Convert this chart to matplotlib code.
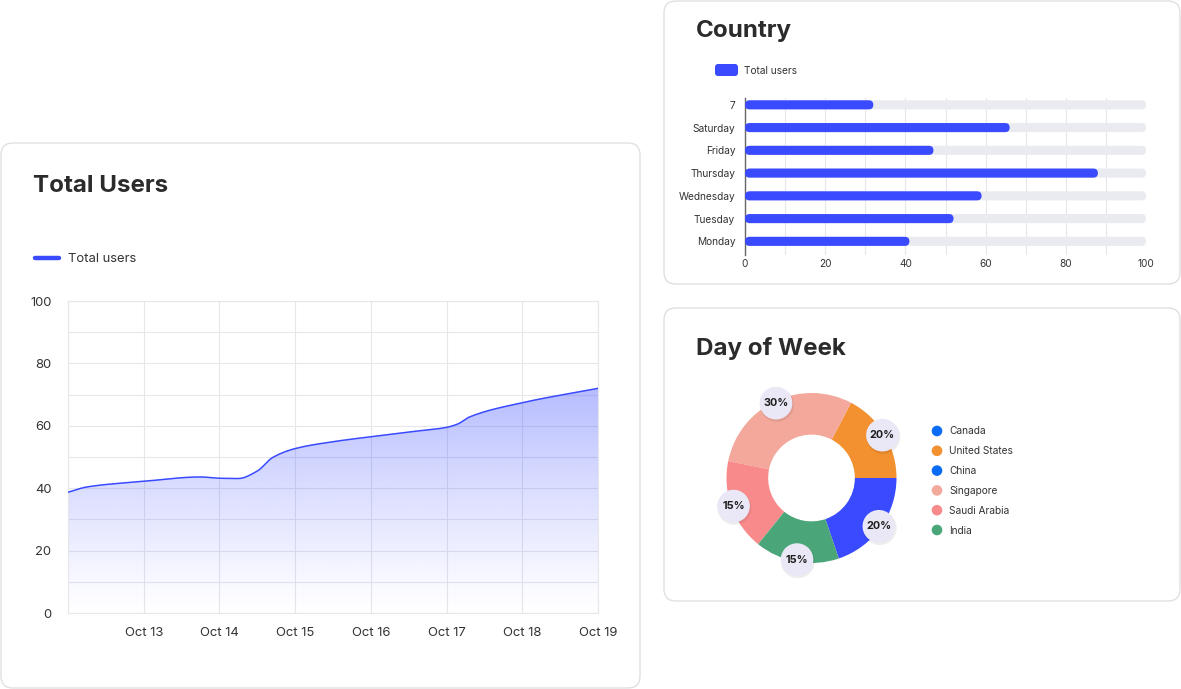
import numpy as np
import matplotlib
matplotlib.use("Agg")
import matplotlib.pyplot as plt
from matplotlib.patches import FancyBboxPatch, Polygon, Circle

plt.rcParams['font.family'] = ['Inter', 'DejaVu Sans']

# ---- data ----
# line chart: day offset from Oct 12 and total users
line_days = [0, 0.25, 1.0, 1.75, 2.0, 2.25, 2.5, 2.7, 3.0, 3.5, 4.0, 4.5, 5.0, 5.15, 5.3, 6.0, 7.0]
line_users = [38.7, 40.4, 42.2, 43.6, 43.2, 43.1, 45.5, 49.8, 52.7, 54.9, 56.5, 58.0, 59.5, 60.6, 62.8, 67.4, 72.0]
date_labels = ['Oct 13', 'Oct 14', 'Oct 15', 'Oct 16', 'Oct 17', 'Oct 18', 'Oct 19']

# bar chart
bar_days = ['Monday', 'Tuesday', 'Wednesday', 'Thursday', 'Friday', 'Saturday', '7']
bar_users = [41, 52, 59, 88, 47, 66, 32]

# donut chart
countries = ['Canada', 'United States', 'China', 'Singapore', 'Saudi Arabia', 'India']
shares = [19.8, 17.3, 0, 29.5, 17.4, 16.0]
share_labels = ['20%', '20%', '', '30%', '15%', '15%']
slice_colors = ['#3A4BFF', '#F3902F', '#0A6CF5', '#F3A89B', '#F88A8C', '#4AA679']
legend_colors = ['#0A6CF5', '#F3902F', '#0A6CF5', '#F3A99C', '#F88A8C', '#4AA679']

W, H = 1181, 689
BLUE = '#3A4BFF'
GRID = '#E6E6EB'
TXT = '#333333'

fig = plt.figure(figsize=(W / 100, H / 100), dpi=100)
fig.patch.set_facecolor('white')


def px_axes(left, top, right, bottom):
    return fig.add_axes([left / W, 1 - bottom / H, (right - left) / W, (bottom - top) / H])


# background layer in pixel units (cards, titles, legends)
bg = fig.add_axes([0, 0, 1, 1], zorder=-5)
bg.set_xlim(0, W)
bg.set_ylim(H, 0)
bg.axis('off')

cards = [(1, 143, 640, 688), (664, 1, 1180, 284), (664, 308, 1180, 601)]
for l, t, r, b in cards:
    bg.add_patch(FancyBboxPatch((l, t), r - l, b - t, boxstyle="round,pad=0,rounding_size=12",
                                facecolor='white', edgecolor='#E0E0E0', linewidth=1))

title_kw = dict(fontsize=17.4, fontweight='bold', color='#2B2B2B', va='baseline', ha='left')
bg.text(33, 192, 'Total Users', **title_kw)
bg.text(696, 37.5, 'Country', **title_kw)
bg.text(696, 355, 'Day of Week', **title_kw)

# legend of line chart
bg.plot([35, 59], [258, 258], color=BLUE, lw=3.2, solid_capstyle='round')
bg.text(68, 259, 'Total users', fontsize=9.4, color=TXT, va='center', ha='left')

# legend of bar chart
bg.add_patch(FancyBboxPatch((715, 64), 23, 12, boxstyle="round,pad=0,rounding_size=3",
                            facecolor=BLUE, edgecolor='none'))
bg.text(744, 70.5, 'Total users', fontsize=7.3, color=TXT, va='center', ha='left')

# legend of donut chart
for i, (name, col) in enumerate(zip(countries, legend_colors)):
    y = 431 + i * 19.8
    bg.add_patch(Circle((937, y), 5.3, facecolor=col, edgecolor='none'))
    bg.text(949, y + 0.5, name, fontsize=7.3, color=TXT, va='center', ha='left')


# ---- monotone cubic curve for smooth line ----
def monotone_curve(x, y, n=500):
    x = np.asarray(x, float)
    y = np.asarray(y, float)
    h = np.diff(x)
    d = np.diff(y) / h
    m = np.zeros_like(y)
    m[0], m[-1] = d[0], d[-1]
    for k in range(1, len(x) - 1):
        if d[k - 1] * d[k] <= 0:
            m[k] = 0
        else:
            w1 = 2 * h[k] + h[k - 1]
            w2 = h[k] + 2 * h[k - 1]
            m[k] = (w1 + w2) / (w1 / d[k - 1] + w2 / d[k])
    xs = np.linspace(x[0], x[-1], n)
    idx = np.clip(np.searchsorted(x, xs) - 1, 0, len(h) - 1)
    t = (xs - x[idx]) / h[idx]
    h00 = 2 * t**3 - 3 * t**2 + 1
    h10 = t**3 - 2 * t**2 + t
    h01 = -2 * t**3 + 3 * t**2
    h11 = t**3 - t**2
    ys = h00 * y[idx] + h10 * h[idx] * m[idx] + h01 * y[idx + 1] + h11 * h[idx] * m[idx + 1]
    return xs, ys


# ---- line / area chart ----
ax = px_axes(68, 301, 598, 613)
xs, ys = monotone_curve(line_days, line_users)

# gradient fill clipped to the area under the curve
grad = np.zeros((256, 1, 4))
grad[:, 0, :3] = matplotlib.colors.to_rgb(BLUE)
grad[:, 0, 3] = np.linspace(0.0, 0.42, 256) ** 1.15
im = ax.imshow(grad, extent=(xs[0], xs[-1], 0, max(line_users)), origin='lower',
               aspect='auto', zorder=1)
verts = np.column_stack([np.r_[xs, xs[-1], xs[0]], np.r_[ys, 0, 0]])
clip = Polygon(verts, closed=True, facecolor='none', edgecolor='none', transform=ax.transData)
ax.add_patch(clip)
im.set_clip_path(clip)
ax.plot(xs, ys, color=BLUE, lw=1.1, zorder=3)

ax.set_xlim(0, 7)
ax.set_ylim(0, 100)
ax.set_xticks(range(1, 8))
ax.set_xticklabels(date_labels)
ax.set_xticks([0], minor=True)
ax.set_yticks(range(0, 101, 20))
ax.set_yticks(range(10, 100, 20), minor=True)
ax.grid(True, which='both', color=GRID, lw=0.8, zorder=0)
ax.set_axisbelow(True)
for s in ax.spines.values():
    s.set_color(GRID)
    s.set_linewidth(0.8)
ax.tick_params(which='both', length=0, labelsize=9.4, labelcolor=TXT)
ax.tick_params(axis='x', pad=10)
ax.tick_params(axis='y', pad=12)

# ---- horizontal bar chart ----
ax2 = px_axes(745, 98, 1146, 255)
ax2.set_facecolor('none')
ax2.set_xlim(0, 100)
ax2.set_ylim(-0.6, 6.3)
ypos = np.arange(len(bar_days))
bar_h = 0.4
bg_bars = ax2.barh(ypos, [100] * len(bar_days), height=bar_h, color='#E9EBF0', zorder=2)
fg_bars = ax2.barh(ypos, bar_users, height=bar_h, color=BLUE, zorder=3)

# round the bar ends
px_x = (1146 - 745) / 100
px_y = (255 - 98) / 6.9
r_x = (bar_h / 2) * px_y / px_x
aspect = (bar_h / 2) / r_x
for bars in (bg_bars, fg_bars):
    for b in bars:
        x0, y0, w, hh = b.get_x(), b.get_y(), b.get_width(), b.get_height()
        b.set_visible(False)
        ax2.add_patch(FancyBboxPatch((x0, y0), w, hh,
                                     boxstyle=f"round,pad=0,rounding_size={r_x}",
                                     mutation_aspect=aspect, facecolor=b.get_facecolor(),
                                     edgecolor='none', zorder=b.get_zorder()))

ax2.set_yticks(ypos)
ax2.set_yticklabels(bar_days)
ax2.set_xticks(range(0, 101, 20))
ax2.set_xticks(range(10, 100, 20), minor=True)
ax2.grid(True, axis='x', which='both', color=GRID, lw=0.8, zorder=0)
ax2.set_axisbelow(True)
for side in ('top', 'right', 'bottom'):
    ax2.spines[side].set_visible(False)
ax2.spines['left'].set_color('#666666')
ax2.spines['left'].set_linewidth(1)
ax2.tick_params(which='both', length=0, labelsize=7.3, labelcolor=TXT)
ax2.tick_params(axis='y', pad=7)
ax2.tick_params(axis='x', pad=3)

# ---- donut chart ----
R_PX = 85
ax3 = px_axes(811.5 - 100, 478 - 100, 811.5 + 100, 478 + 100)
ax3.set_facecolor('none')
start = -360 * shares[0] / sum(shares)
wedges, _ = ax3.pie(shares, colors=slice_colors, startangle=start, counterclock=True,
                    radius=1, wedgeprops=dict(width=0.49, linewidth=0))
lim = 100 / R_PX
ax3.set_xlim(-lim, lim)
ax3.set_ylim(-lim, lim)
ax3.set_aspect('equal')
ax3.axis('off')

for w, lab in zip(wedges, share_labels):
    if not lab:
        continue
    th = np.deg2rad((w.theta1 + w.theta2) / 2)
    cx, cy = 0.975 * np.cos(th), 0.975 * np.sin(th)
    ax3.add_patch(Circle((cx + 0.01, cy - 0.02), 0.2, facecolor='black', alpha=0.07,
                         edgecolor='none', zorder=4))
    ax3.add_patch(Circle((cx, cy), 0.192, facecolor='#EAE8F6', edgecolor='none', zorder=5))
    ax3.text(cx, cy, lab, ha='center', va='center', fontsize=7.8, fontweight='bold',
             color='#1E1E1E', zorder=6)

fig.savefig('out.png', dpi=100)
